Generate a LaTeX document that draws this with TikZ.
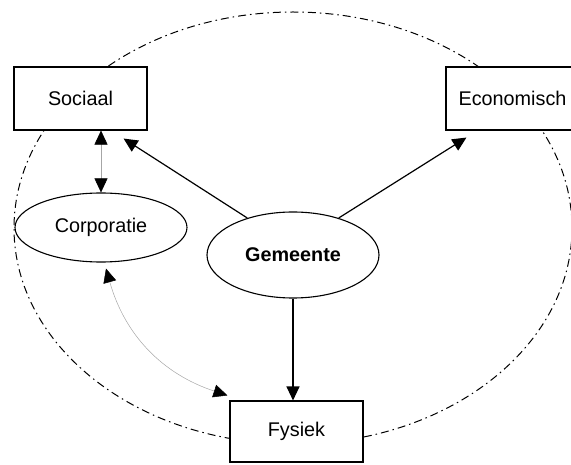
\documentclass[tikz,border=0pt]{standalone}
\usepackage{fontspec}
\setmainfont{Liberation Sans}
\usetikzlibrary{arrows.meta,calc,shapes.geometric}
\begin{document}
\begin{tikzpicture}[x=1pt,y=1pt,
  every node/.style={font=\fontsize{19.8}{24}\selectfont},
  area/.style={draw,line width=1.1pt,fill=white,minimum width=133pt,minimum height=63pt,inner sep=0pt},
  actor/.style={draw,line width=1.1pt,fill=white,ellipse,inner sep=0pt},
  mainarrow/.style={line width=1.2pt,-{Triangle[length=14pt,width=13pt]}},
  softlink/.style={draw=black!35,line width=0.5pt,{Triangle[length=14pt,width=13pt,black]}-{Triangle[length=14pt,width=13pt,black]}},
  boundary/.style={line width=1pt,dash pattern=on 8pt off 4pt on 1.5pt off 4pt}]
\useasboundingbox (0,0) rectangle (571,464);

% outer boundary
\draw[boundary] (293,236) ellipse [x radius=279, y radius=216];

% domains
\node[area] (soc) at (80.5,365.5) {Sociaal};
\node[area] (eco) at (512.5,365.5) {Economisch};
\node[area,minimum height=61pt] (fys) at (296.5,32.5) {Fysiek};

% actors
\node[actor,minimum width=172pt,minimum height=69pt] (cor) at (101,236.5) {Corporatie};
\node[actor,minimum width=172pt,minimum height=86pt] (gem) at (293,209) {\bfseries Gemeente};

% influence of the municipality
\draw[mainarrow] (gem.141) -- ($(soc.south east)+(-24,-8)$);
\draw[mainarrow] (gem.39) -- ($(eco.south west)+(21,-7)$);
\draw[mainarrow] (gem.south) -- (gem.south |- fys.north);

% corporation links
\draw[softlink] (cor.north) -- (cor.north |- soc.south);
\draw[softlink] ($(cor.south)+(5,-6)$) to[bend right=28] ($(fys.north west)+(-2,5)$);
\end{tikzpicture}
\end{document}
